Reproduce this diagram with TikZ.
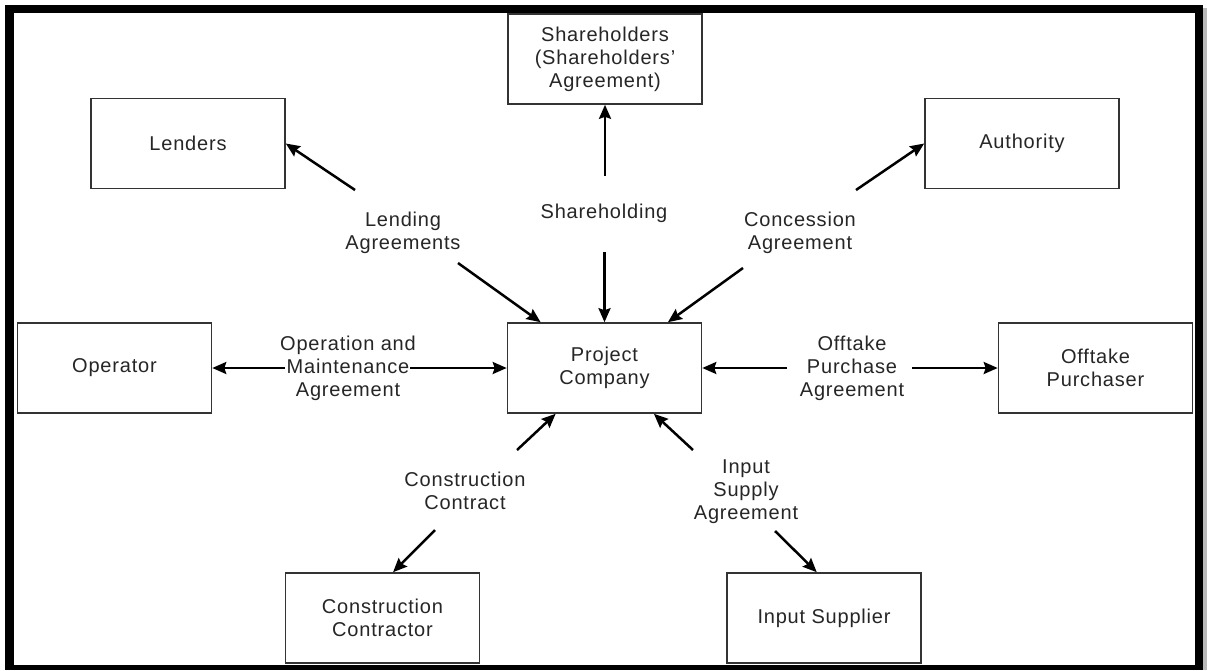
\documentclass[tikz,border=0pt]{standalone}
\usepackage{fontspec}
\setmainfont[LetterSpace=4]{Liberation Sans}
\usetikzlibrary{arrows.meta}
\begin{document}
\begin{tikzpicture}[x=1pt,y=-1pt,
  party/.style={draw=black!80, line width=1.6pt, fill=white, minimum width=194pt,
    minimum height=90pt, inner sep=0pt, align=center, font=\fontsize{20}{23}\selectfont, text=black!85},
  deal/.style={align=center, inner sep=0pt, font=\fontsize{20}{23}\selectfont, text=black!85},
  arr/.style={line width=2.5pt, -{Stealth[length=14pt,width=12pt,inset=2pt]}}]
\useasboundingbox (0,0) rectangle (1207,670);
% outer frame with thick black border
\fill[black] (5,5) rectangle (1203,670);
\fill[gray!55] (1203,8) rectangle (1207,670);
\fill[white] (14,13) rectangle (1195,665);

% parties
\node[party] (sh)  at (605,59)    {Shareholders\\(Shareholders'\\Agreement)};
\node[party] (len) at (188,143.5) {Lenders};
\node[party] (aut) at (1022,143.5){Authority};
\node[party] (op)  at (114.5,368) {Operator};
\node[party] (pc)  at (604.5,368) {Project\\Company};
\node[party] (opu) at (1095.5,368){Offtake\\Purchaser};
\node[party] (cc)  at (382.5,618) {Construction\\Contractor};
\node[party] (is)  at (824,618)   {Input Supplier};

% agreements
\node[deal] (la) at (403,233) {Lending\\Agreements};
\node[deal] (shd) at (604,213) {Shareholding};
\node[deal] (ca) at (800,233) {Concession\\Agreement};
\node[deal] (om) at (348,368) {Operation and\\Maintenance\\Agreement};
\node[deal] (opa) at (852,368) {Offtake\\Purchase\\Agreement};
\node[deal] (cct) at (465,491) {Construction\\Contract};
\node[deal] (isa) at (746,492) {Input\\Supply\\Agreement};

% connector ends beside the agreement labels
\coordinate (laA) at (355,190);
\coordinate (laB) at (458,263);
\coordinate (shA) at (605,176);
\coordinate (shB) at (604.5,252);
\coordinate (caA) at (856,190);
\coordinate (caB) at (743,268);
\coordinate (omA) at (285,368);
\coordinate (omB) at (410,368);
\coordinate (opaA) at (787,368);
\coordinate (opaB) at (912,368);
\coordinate (cctA) at (517,450);
\coordinate (cctB) at (435,530);
\coordinate (isaA) at (693,450);
\coordinate (isaB) at (775,531);

% connectors
\draw[arr] (laA) -- (len.east);
\draw[arr] (laB) -- (pc);
\draw[arr] (shA) -- (sh.south);
\draw[arr] (shB) -- (pc.north);
\draw[arr] (caA) -- (aut.west);
\draw[arr] (caB) -- (pc);
\draw[arr] (omA) -- (op.east);
\draw[arr] (omB) -- (pc.west);
\draw[arr] (opaA) -- (pc.east);
\draw[arr] (opaB) -- (opu.west);
\draw[arr] (cctA) -- (pc);
\draw[arr] (cctB) -- (cc.77);
\draw[arr] (isaA) -- (pc);
\draw[arr] (isaB) -- (is.99);
\end{tikzpicture}
\end{document}
